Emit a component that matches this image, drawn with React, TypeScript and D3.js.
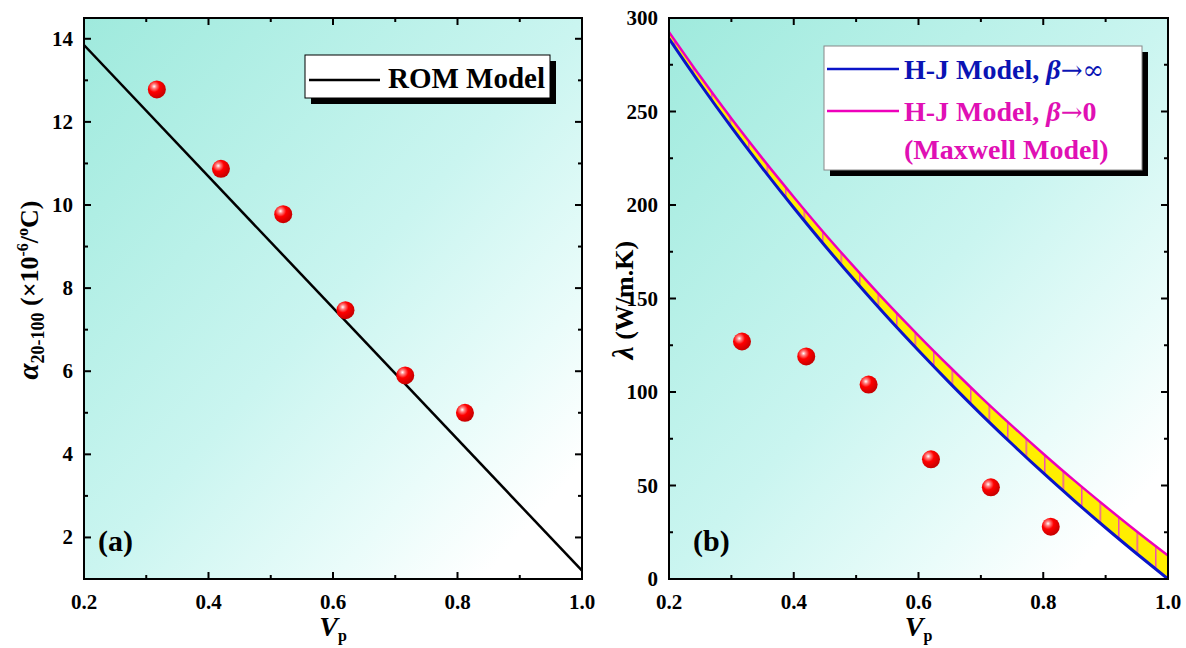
import React from "react";
import * as d3 from "d3";

// volume fraction of particles and measured values
const vp = [0.317, 0.42, 0.52, 0.62, 0.716, 0.812];
const alphaMeas = [12.78, 10.87, 9.78, 7.47, 5.9, 5.0];
const lambdaMeas = [127, 119, 104, 64, 49, 28];

// ROM model line end points
const romV = [0.2, 1.0];
const romAlpha = [13.85, 1.2];

// H-J model curves
const hjV = [0.2, 0.25, 0.3, 0.35, 0.4, 0.45, 0.5, 0.55, 0.6, 0.65, 0.7, 0.75, 0.8, 0.85, 0.9, 0.95, 1.0];
const hjInf = [289, 264.7, 241.6, 219.6, 198.5, 178.2, 158.8, 140.1, 122.2, 104.9, 88.2, 72.2, 56.7, 41.8, 27.4, 13.5, 0];
const hjZero = [292.5, 268.8, 246.2, 224.8, 204.3, 184.5, 165.7, 147.5, 130.2, 113.5, 97.3, 81.9, 67, 52.6, 38.8, 25.4, 12.5];

const xTicks = [0.2, 0.4, 0.6, 0.8, 1.0];
const xMinor = [0.3, 0.5, 0.7, 0.9];
const alphaTicks = [2, 4, 6, 8, 10, 12, 14];
const alphaMinor = [1, 3, 5, 7, 9, 11, 13];
const lambdaTicks = [0, 50, 100, 150, 200, 250, 300];
const lambdaMinor = [25, 75, 125, 175, 225, 275];

const FONT = "'Liberation Serif', 'Times New Roman', serif";
const TOP = 18;
const BOTTOM = 579;

type Box = { x0: number; x1: number };

function Frame({ box, y, yTicks, yMinor }: { box: Box; y: d3.ScaleLinear<number, number>; yTicks: number[]; yMinor: number[] }) {
  const x = d3.scaleLinear().domain([0.2, 1.0]).range([box.x0, box.x1]);
  const maj = 7, min = 4;
  return (
    <g>
      <rect x={box.x0} y={TOP} width={box.x1 - box.x0} height={BOTTOM - TOP} fill="none" stroke="#000" strokeWidth={2} />
      {xTicks.map(t => (
        <g key={"x" + t}>
          <line x1={x(t)} x2={x(t)} y1={BOTTOM} y2={BOTTOM - maj} stroke="#000" strokeWidth={2} />
          <line x1={x(t)} x2={x(t)} y1={TOP} y2={TOP + maj} stroke="#000" strokeWidth={2} />
          <text x={x(t)} y={609} textAnchor="middle" fontFamily={FONT} fontWeight="bold" fontSize={21}>{t.toFixed(1)}</text>
        </g>
      ))}
      {xMinor.map(t => (
        <g key={"xm" + t}>
          <line x1={x(t)} x2={x(t)} y1={BOTTOM} y2={BOTTOM - min} stroke="#000" strokeWidth={2} />
          <line x1={x(t)} x2={x(t)} y1={TOP} y2={TOP + min} stroke="#000" strokeWidth={2} />
        </g>
      ))}
      {yTicks.map(t => (
        <g key={"y" + t}>
          <line x1={box.x0} x2={box.x0 + maj} y1={y(t)} y2={y(t)} stroke="#000" strokeWidth={2} />
          <line x1={box.x1} x2={box.x1 - maj} y1={y(t)} y2={y(t)} stroke="#000" strokeWidth={2} />
          <text x={box.x0 - 11} y={y(t) + 7} textAnchor="end" fontFamily={FONT} fontWeight="bold" fontSize={21}>{String(t)}</text>
        </g>
      ))}
      {yMinor.map(t => (
        <g key={"ym" + t}>
          <line x1={box.x0} x2={box.x0 + min} y1={y(t)} y2={y(t)} stroke="#000" strokeWidth={2} />
          <line x1={box.x1} x2={box.x1 - min} y1={y(t)} y2={y(t)} stroke="#000" strokeWidth={2} />
        </g>
      ))}
      <text x={(box.x0 + box.x1) / 2} y={636} textAnchor="middle" fontFamily={FONT} fontWeight="bold" fontSize={28}>
        <tspan fontStyle="italic">V</tspan>
        <tspan fontSize={16} dy={5}>p</tspan>
      </text>
    </g>
  );
}

function Sphere({ cx, cy }: { cx: number; cy: number }) {
  return <circle cx={cx} cy={cy} r={9} fill="url(#sphere)" />;
}

const ARROW = "'DejaVu Serif', serif";

export default function App() {
  const left: Box = { x0: 84, x1: 582 };
  const right: Box = { x0: 669, x1: 1168 };

  const xL = d3.scaleLinear().domain([0.2, 1.0]).range([left.x0, left.x1]);
  const yL = d3.scaleLinear().domain([1, 14.5]).range([BOTTOM, TOP]);
  const xR = d3.scaleLinear().domain([0.2, 1.0]).range([right.x0, right.x1]);
  const yR = d3.scaleLinear().domain([0, 300]).range([BOTTOM, TOP]);

  const romLine = d3.line<number>().x((_, i) => xL(romV[i])).y(d => yL(d))(romAlpha) || "";
  const curve = (vals: number[]) =>
    d3.line<number>().x((_, i) => xR(hjV[i])).y(d => yR(d)).curve(d3.curveMonotoneX)(vals) || "";
  const band = d3.area<number>()
    .x((_, i) => xR(hjV[i]))
    .y0((_, i) => yR(hjInf[i]))
    .y1(d => yR(d))
    .curve(d3.curveMonotoneX)(hjZero) || "";

  return (
    <svg width={1186} height={648} style={{ position: "fixed", left: 0, top: 0, background: "#fff" }}>
      <defs>
        <linearGradient id="bg" x1="0" y1="0" x2="1" y2="1">
          <stop offset="0" stopColor="#9feadd" />
          <stop offset="0.5" stopColor="#caf5f0" />
          <stop offset="0.75" stopColor="#eafcfa" />
          <stop offset="0.9" stopColor="#ffffff" />
        </linearGradient>
        <radialGradient id="sphere" cx="0.35" cy="0.33" r="0.7">
          <stop offset="0" stopColor="#ffffff" />
          <stop offset="0.18" stopColor="#ff8080" />
          <stop offset="0.45" stopColor="#ff0000" />
          <stop offset="1" stopColor="#c40000" />
        </radialGradient>
        <pattern id="hatch" patternUnits="userSpaceOnUse" x={674} y={0} width={18.5} height={20}>
          <rect width={18.5} height={20} fill="#ffee00" />
          <line x1={0.75} x2={0.75} y1={0} y2={20} stroke="#f050b0" strokeWidth={1.5} />
        </pattern>
        <clipPath id="clipL"><rect x={left.x0} y={TOP} width={left.x1 - left.x0} height={BOTTOM - TOP} /></clipPath>
        <clipPath id="clipR"><rect x={right.x0} y={TOP} width={right.x1 - right.x0} height={BOTTOM - TOP} /></clipPath>
      </defs>

      {/* panel (a) */}
      <rect x={left.x0} y={TOP} width={left.x1 - left.x0} height={BOTTOM - TOP} fill="url(#bg)" />
      <path d={romLine} stroke="#000" strokeWidth={2.5} fill="none" clipPath="url(#clipL)" />
      {vp.map((v, i) => <Sphere key={"a" + i} cx={xL(v)} cy={yL(alphaMeas[i])} />)}
      <Frame box={left} y={yL} yTicks={alphaTicks} yMinor={alphaMinor} />
      <rect x={311} y={61} width={245} height={43} fill="#000" />
      <rect x={305} y={55} width={245} height={43} fill="#fff" stroke="#000" strokeWidth={1} />
      <line x1={309} x2={380} y1={80} y2={80} stroke="#000" strokeWidth={2.5} />
      <text x={388} y={88} fontFamily={FONT} fontWeight="bold" fontSize={29}>ROM Model</text>
      <text x={98} y={551} fontFamily={FONT} fontWeight="bold" fontSize={30}>(a)</text>
      <text transform="translate(38,290) rotate(-90)" textAnchor="middle" fontFamily={FONT} fontWeight="bold" fontSize={26}>
        <tspan fontStyle="italic" fontSize={29}>α</tspan>
        <tspan fontSize={18} dy={6}>20-100</tspan>
        <tspan dy={-6}> (×10</tspan>
        <tspan fontSize={16} dy={-10}>-6</tspan>
        <tspan dy={10}>/</tspan>
        <tspan fontSize={16} dy={-10}>o</tspan>
        <tspan dy={10}>C)</tspan>
      </text>

      {/* panel (b) */}
      <rect x={right.x0} y={TOP} width={right.x1 - right.x0} height={BOTTOM - TOP} fill="url(#bg)" />
      <g clipPath="url(#clipR)">
        <path d={band} fill="url(#hatch)" />
        <path d={curve(hjZero)} stroke="#ee00bb" strokeWidth={2.5} fill="none" />
        <path d={curve(hjInf)} stroke="#0a14c8" strokeWidth={3} fill="none" />
      </g>
      {vp.map((v, i) => <Sphere key={"b" + i} cx={xR(v)} cy={yR(lambdaMeas[i])} />)}
      <Frame box={right} y={yR} yTicks={lambdaTicks} yMinor={lambdaMinor} />
      <rect x={830} y={52} width={318} height={124} fill="#000" />
      <rect x={824} y={46} width={318} height={124} fill="#fff" stroke="#888" strokeWidth={1} />
      <line x1={827} x2={899} y1={69} y2={69} stroke="#0a14c8" strokeWidth={2.5} />
      <text x={904} y={79} fontFamily={FONT} fontWeight="bold" fontSize={28} fill="#0a14b4">
        H-J Model, <tspan fontStyle="italic">β</tspan><tspan fontFamily={ARROW} fontWeight="normal" fontSize={26}>→∞</tspan>
      </text>
      <line x1={827} x2={899} y1={111} y2={111} stroke="#ee00bb" strokeWidth={2.5} />
      <text x={904} y={121} fontFamily={FONT} fontWeight="bold" fontSize={28} fill="#e010b4">
        H-J Model, <tspan fontStyle="italic">β</tspan><tspan fontFamily={ARROW} fontWeight="normal" fontSize={26}>→</tspan>0
      </text>
      <text x={904} y={159} fontFamily={FONT} fontWeight="bold" fontSize={28} fill="#e010b4">(Maxwell Model)</text>
      <text x={693} y={551} fontFamily={FONT} fontWeight="bold" fontSize={30}>(b)</text>
      <text transform="translate(633,300) rotate(-90)" textAnchor="middle" fontFamily={FONT} fontWeight="bold" fontSize={26}>
        <tspan fontStyle="italic" fontSize={29}>λ</tspan> (W/m.K)
      </text>
    </svg>
  );
}
